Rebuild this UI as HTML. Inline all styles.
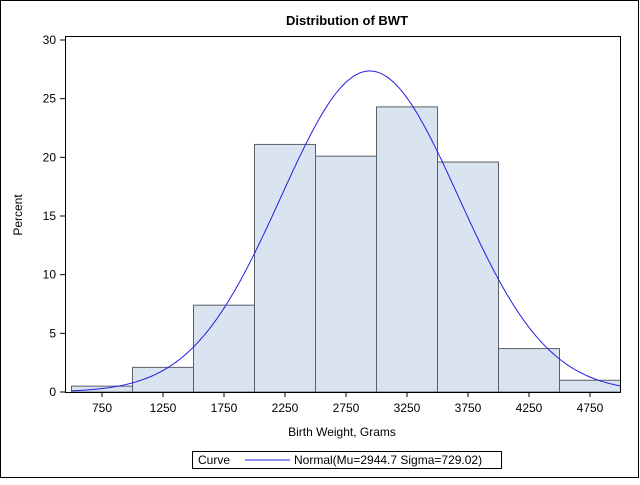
<!DOCTYPE html>
<html><head><meta charset="utf-8"><style>
body{margin:0;background:#fff;font-family:"Liberation Sans",sans-serif}
svg text{font-family:"Liberation Sans",sans-serif;font-size:12px;fill:#000}
</style></head><body>
<svg id="c" width="640" height="480">
<rect x="0.5" y="0.5" width="638" height="477" fill="#fff" stroke="#000"/>
<text x="347" y="25" text-anchor="middle" font-weight="bold" style="font-size:13px">Distribution of BWT</text>
<g id="bars"></g>
<path id="curve" fill="none" stroke="#2020e0" stroke-width="1"/>
<rect x="65.5" y="36.5" width="555" height="356" fill="none" stroke="#000"/>
<g id="axes"></g>
<text x="342" y="436" text-anchor="middle">Birth Weight, Grams</text>
<text transform="translate(22,215) rotate(-90)" text-anchor="middle">Percent</text>
<g>
<rect x="192.5" y="451.5" width="309" height="17" fill="#fff" stroke="#000"/>
<text x="198" y="464">Curve</text>
<line x1="245" y1="460" x2="290" y2="460" stroke="#2020e0"/>
<text x="294" y="464">Normal(Mu=2944.7 Sigma=729.02)</text>
</g>
</svg>
<script>
const binStarts=[500,1000,1500,2000,2500,3000,3500,4000,4500];
const binWidth=500;
const percents=[0.5,2.1,7.4,21.1,20.1,24.3,19.6,3.7,1.0];
const xTicks=[750,1250,1750,2250,2750,3250,3750,4250,4750];
const yTicks=[0,5,10,15,20,25,30];
const mu=2944.7, sigma=729.02;
const NS="http://www.w3.org/2000/svg";
const X=v=>71.5+(v-500)*0.122;
const Y=v=>392-v*11.733;
const bars=document.getElementById('bars'), axes=document.getElementById('axes');
function mk(t,a,p){const e=document.createElementNS(NS,t);for(const k in a)e.setAttribute(k,a[k]);p.appendChild(e);return e;}
binStarts.forEach((b,i)=>{
 const r=mk('rect',{x:X(b),y:Y(percents[i]),width:X(b+binWidth)-X(b),height:Y(0)-Y(percents[i]),fill:'#dae4f1',stroke:'#5a5f66'},bars);
 
 
});
let d='';
for(let v=binStarts[0];v<=binStarts[binStarts.length-1]+binWidth;v+=10){
 const p=100*binWidth*Math.exp(-0.5*((v-mu)/sigma)**2)/(sigma*Math.sqrt(2*Math.PI));
 d+=(d?'L':'M')+X(v).toFixed(1)+','+Y(p).toFixed(1);
}
document.getElementById('curve').setAttribute('d',d);
xTicks.forEach(t=>{
 const l=mk('line',{x1:X(t),x2:X(t),y1:392,y2:397,stroke:'#000'},axes);
 
 
 const tx=mk('text',{x:X(t),y:412,'text-anchor':'middle'},axes);tx.textContent=t;
 
 
});
yTicks.forEach(t=>{
 const l=mk('line',{x1:60,x2:65,y1:Y(t),y2:Y(t),stroke:'#000'},axes);
 
 
 const tx=mk('text',{x:56,y:Y(t)+4,'text-anchor':'end'},axes);tx.textContent=t;
 
 
});
</script>
</body></html>
